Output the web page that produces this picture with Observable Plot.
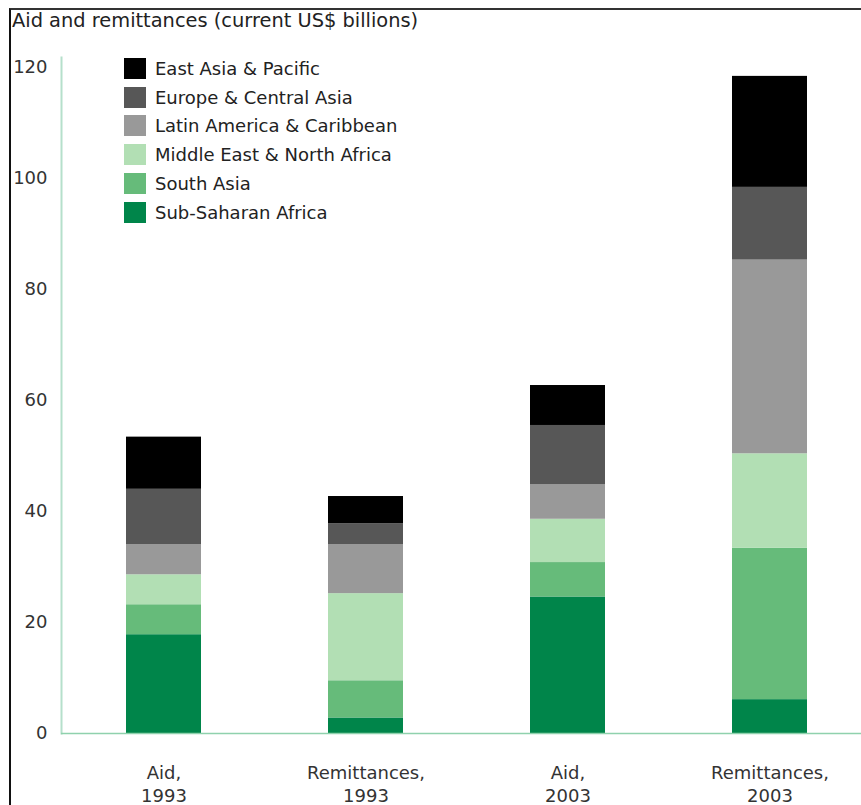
<!DOCTYPE html>
<html>
<head>
<meta charset="utf-8">
<script src="https://cdn.jsdelivr.net/npm/d3@7"></script>
<script src="https://cdn.jsdelivr.net/npm/@observablehq/plot@0.6"></script>
<style>
  html, body { margin: 0; padding: 0; background: #fff; }
  #wrap { position: relative; width: 861px; height: 805px; overflow: hidden; font-family: "DejaVu Sans", sans-serif; }
  #border { position: absolute; left: 9px; top: 8px; width: 860px; height: 820px; border-top: 2px solid #333; border-left: 2px solid #111; box-sizing: border-box; }
  #title { position: absolute; left: 12px; top: 9px; font-size: 19.4px; color: #222; white-space: nowrap; }
  #chart { position: absolute; left: 0; top: 0; }
  #legend { position: absolute; left: 124px; top: 58px; }
  .row { position: absolute; left: 0; height: 21px; white-space: nowrap; }
  .sw { position: absolute; left: 0; top: 0; width: 22px; height: 21px; }
  .lab { position: absolute; left: 31px; top: 0; line-height: 21px; font-size: 18px; color: #222; }
</style>
</head>
<body>
<div id="wrap">
  <div id="chart"></div>
  <div id="border"></div>
  <div id="title">Aid and remittances (current US$ billions)</div>
  <div id="legend"></div>
</div>
<script>
// ---- data ----
const categories = ["Aid, 1993", "Remittances, 1993", "Aid, 2003", "Remittances, 2003"];
const regions = ["East Asia & Pacific", "Europe & Central Asia", "Latin America & Caribbean",
                 "Middle East & North Africa", "South Asia", "Sub-Saharan Africa"];
const regionColors = ["#000000", "#575757", "#999999", "#b2dfb4", "#66bb7a", "#00854a"];
const eastAsiaPacific   = [9.4, 4.9, 7.2, 20.0];
const europeCentralAsia = [10.0, 3.8, 10.7, 13.1];
const latinAmerica      = [5.4, 8.8, 6.2, 34.9];
const middleEastNAfrica = [5.4, 15.7, 7.8, 17.0];
const southAsia         = [5.4, 6.7, 6.2, 27.3];
const subSaharanAfrica  = [17.8, 2.8, 24.6, 6.1];
const yTicks = [0, 20, 40, 60, 80, 100, 120];

// stacked bottom-up: Sub-Saharan first
const seriesByRegion = {
  "Sub-Saharan Africa": subSaharanAfrica,
  "South Asia": southAsia,
  "Middle East & North Africa": middleEastNAfrica,
  "Latin America & Caribbean": latinAmerica,
  "Europe & Central Asia": europeCentralAsia,
  "East Asia & Pacific": eastAsiaPacific
};
const table = [];
for (const [region, vals] of Object.entries(seriesByRegion)) {
  vals.forEach((v, i) => table.push({category: categories[i], region, value: v}));
}

const chart = Plot.plot({
  width: 861,
  height: 805,
  marginLeft: 61,
  marginRight: 0,
  marginTop: 57,
  marginBottom: 72,
  style: {fontFamily: "DejaVu Sans, sans-serif", color: "#333", background: "transparent"},
  x: {domain: categories, paddingInner: 0.6305, paddingOuter: 0.2857, align: 0.545},
  y: {domain: [0, 120], range: [733, 67]},
  color: {domain: regions, range: regionColors},
  marks: [
    Plot.frame({anchor: "left", stroke: "#b5e0cb", strokeWidth: 2}),
    Plot.barY(table, {x: "category", y: "value", fill: "region", order: null}),
    Plot.ruleY([0], {stroke: "#8fd1ad", strokeWidth: 1.5}),
    Plot.axisY({ticks: yTicks, tickSize: 0, tickPadding: 14, fontSize: 18, label: null}),
    Plot.axisX({tickSize: 0, tickPadding: 29, fontSize: 18, lineHeight: 1.28, label: null,
                tickFormat: d => d.replace(", ", ",\n")})
  ]
});
document.getElementById("chart").appendChild(chart);

// legend
const legend = document.getElementById("legend");
regions.forEach((r, i) => {
  const row = document.createElement("div");
  row.className = "row";
  row.style.top = (i * 28.7) + "px";
  const sw = document.createElement("div");
  sw.className = "sw";
  sw.style.background = regionColors[i];
  const lab = document.createElement("div");
  lab.className = "lab";
  lab.textContent = r;
  row.appendChild(sw); row.appendChild(lab);
  legend.appendChild(row);
});
</script>
</body>
</html>
